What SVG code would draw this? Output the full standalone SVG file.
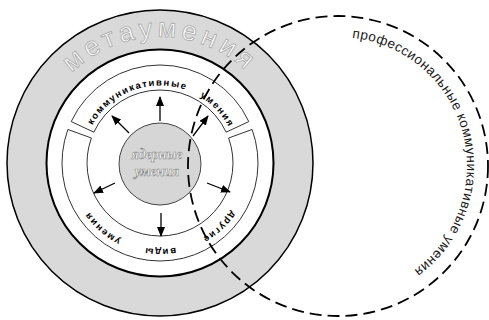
<svg xmlns="http://www.w3.org/2000/svg" xmlns:xlink="http://www.w3.org/1999/xlink" width="489" height="320" viewBox="0 0 489 320">
<style>
.band{fill:#d9d9d9;stroke:#000;stroke-width:1.5}
.inner{fill:#fff;stroke:#000;stroke-width:2}
.seg{fill:#fff;stroke:#333;stroke-width:1}
.core{fill:#d6d6d6;stroke:#444;stroke-width:1}
.meta{font-family:"Liberation Sans",Arial,sans-serif;font-size:27px;fill:#fff;stroke:#a8a8a8;stroke-width:0.8;letter-spacing:4.5px}
.ring{font-family:"Liberation Sans",Arial,sans-serif;font-size:9.5px;font-weight:bold;fill:#000;letter-spacing:1.5px}
.core-t{font-family:"Liberation Serif","Times New Roman",serif;font-style:italic;font-weight:bold;font-size:14px;fill:#fff;stroke:#8a8a8a;stroke-width:0.6;text-anchor:middle}
.prof{font-family:"Liberation Sans",Arial,sans-serif;font-size:13.5px;fill:#1a1a1a;letter-spacing:0.5px}
.arrow{stroke:#000;stroke-width:1.3;fill:none;marker-end:url(#ah)}
.dash{fill:none;stroke:#000;stroke-width:1.8;stroke-dasharray:12 6}
</style>
<defs>
<marker id="ah" viewBox="0 0 10 8" refX="9" refY="4" markerWidth="10" markerHeight="8" markerUnits="userSpaceOnUse" orient="auto">
<path d="M0,0 L10,4 L0,8 Z" fill="#000"/>
</marker>
<path id="pMeta" d="M 34,163 A 126 126 0 0 1 286,163"/>
<path id="pTop" d="M 82.5,163 A 77.5 77.5 0 0 1 237.5,163"/>
<path id="pBot" d="M 246,163 A 86 86 0 0 1 74,163"/>
<path id="pProf" d="M 338,37 A 129 129 0 0 1 382.1,287.2"/>
</defs>

<g id="metaskills">
<circle class="band" cx="160" cy="163" r="153"/>
<circle class="inner" cx="160" cy="163" r="113.5"/>
<text class="meta"><textPath xlink:href="#pMeta" startOffset="50%" text-anchor="middle">метаумения</textPath></text>
</g>

<g id="communicative">
<path class="seg" d="M 71.18,121.58 A 98 98 0 0 1 248.82,121.58 L 226.16,132.15 A 73 73 0 0 0 93.84,132.15 Z"/>
<text class="ring"><textPath xlink:href="#pTop" startOffset="94" text-anchor="middle">коммуникативные</textPath></text>
<text class="ring"><textPath xlink:href="#pTop" startOffset="185" text-anchor="middle">умения</textPath></text>
</g>

<g id="other">
<path class="seg" d="M 252.09,129.48 A 98 98 0 1 1 67.91,129.48 L 91.40,138.03 A 73 73 0 1 0 228.60,138.03 Z"/>
<text class="ring"><textPath xlink:href="#pBot" startOffset="71" text-anchor="middle">другие</textPath></text>
<text class="ring"><textPath xlink:href="#pBot" startOffset="135" text-anchor="middle">виды</textPath></text>
<text class="ring"><textPath xlink:href="#pBot" startOffset="197" text-anchor="middle">умения</textPath></text>
</g>

<g id="core">
<circle class="core" cx="160" cy="164" r="41"/>
<text class="core-t" x="157" y="159">ядерные</text>
<text class="core-t" x="157" y="176">умения</text>
</g>

<g id="connectors">
<line class="arrow" x1="160" y1="121" x2="160" y2="97"/>
<line class="arrow" x1="129" y1="133" x2="112" y2="116"/>
<line class="arrow" x1="193" y1="136" x2="208" y2="116"/>
<line class="arrow" x1="207" y1="183" x2="230" y2="192"/>
<line class="arrow" x1="161" y1="213" x2="161" y2="236"/>
<line class="arrow" x1="115" y1="183" x2="94" y2="193"/>
</g>

<g id="professional">
<circle class="dash" cx="338" cy="166" r="150"/>
<text class="prof"><textPath xlink:href="#pProf" startOffset="14">профессиональные коммуникативные умения</textPath></text>
</g>
</svg>
